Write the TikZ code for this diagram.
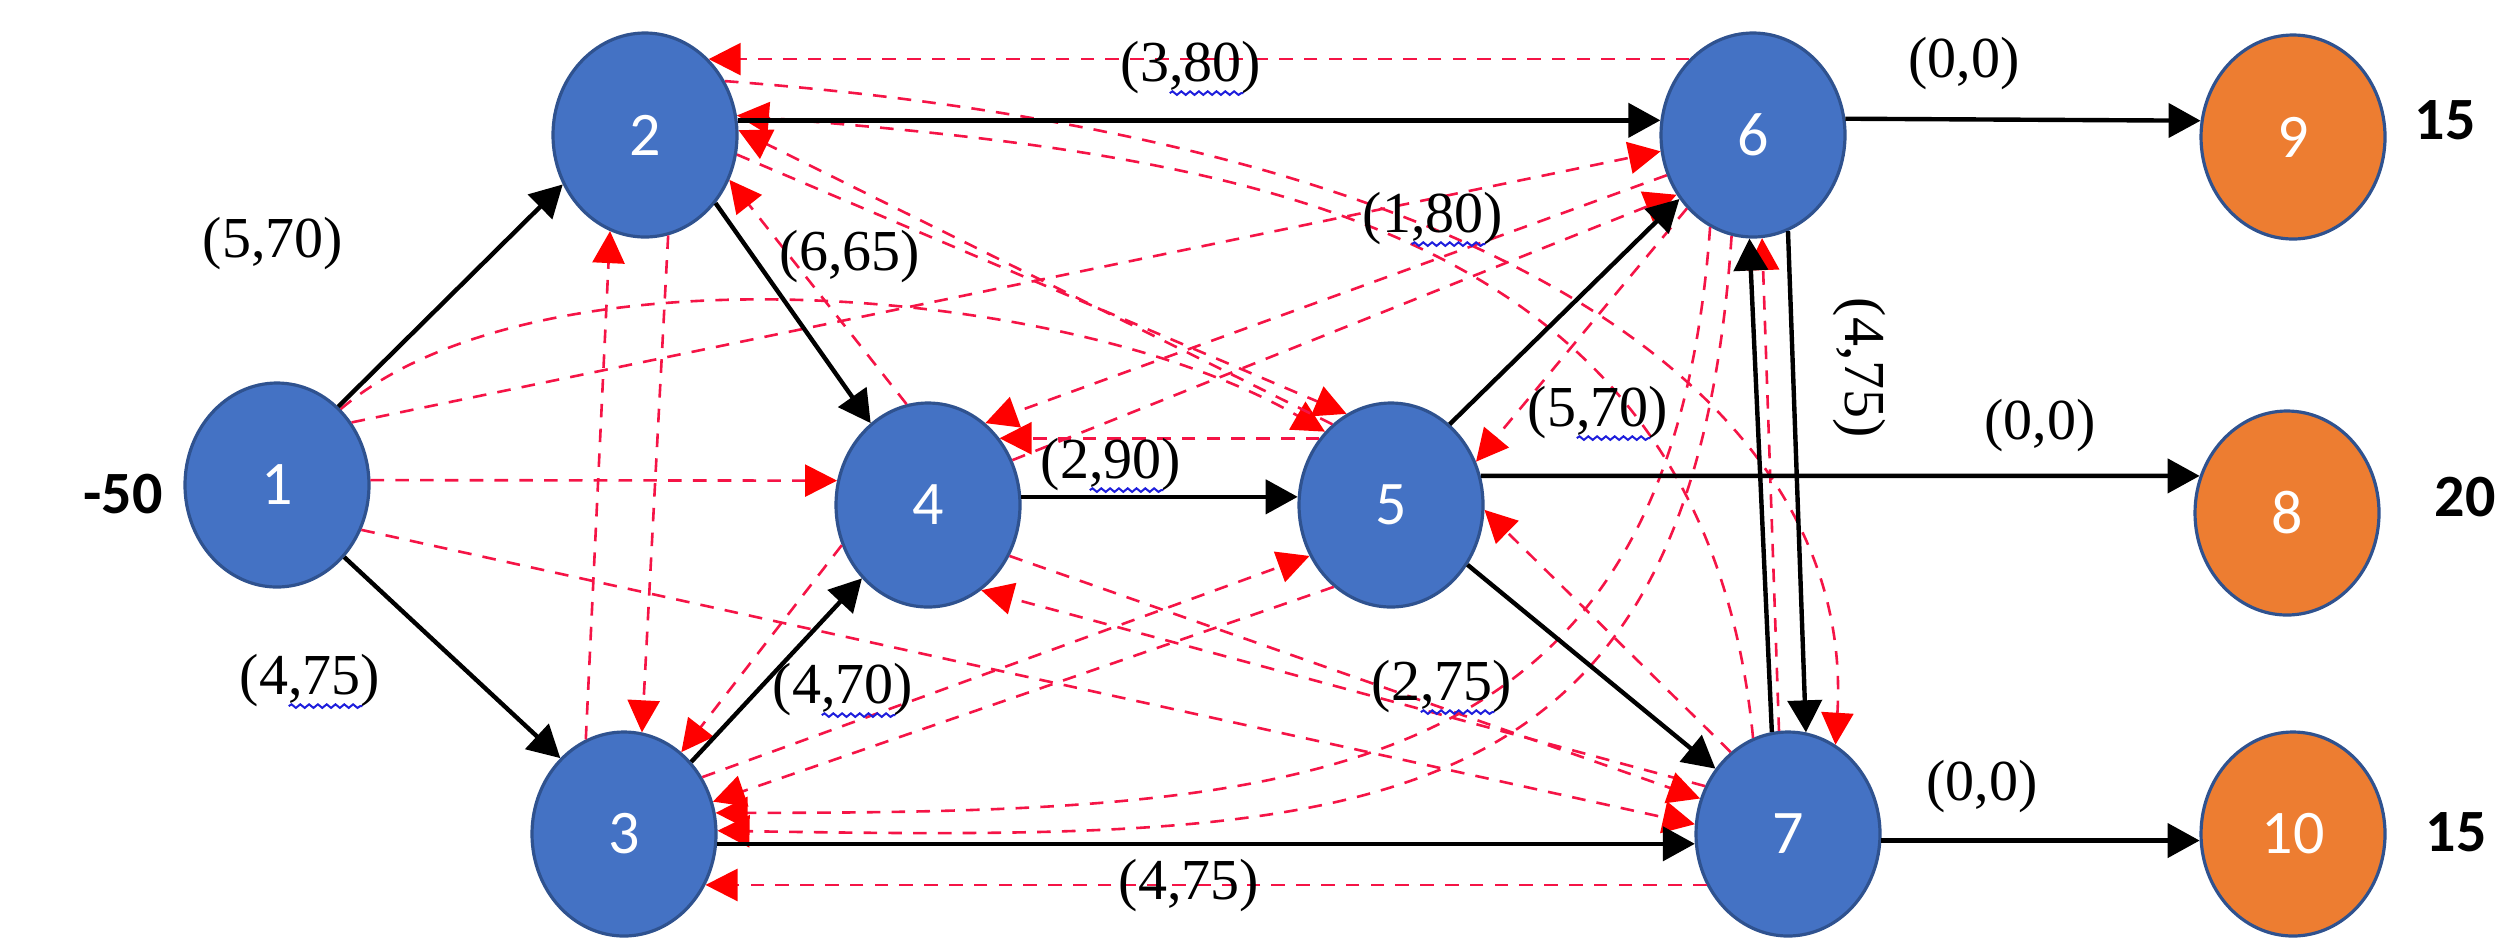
\documentclass[tikz,border=0pt]{standalone}
\usepackage{fontspec}
\setmainfont{Liberation Serif}
\newfontfamily\nodefont{Carlito}
\usetikzlibrary{shapes.geometric,arrows.meta,calc,decorations.pathmorphing}

\definecolor{nodeblue}{RGB}{68,114,196}
\definecolor{nodeedge}{RGB}{47,82,143}
\definecolor{nodeorange}{RGB}{237,125,49}
\definecolor{dashred}{RGB}{245,20,70}
\definecolor{tipred}{RGB}{255,0,0}
\definecolor{squigblue}{RGB}{30,30,220}

\tikzset{
  vtx/.style={ellipse, minimum width=46pt, minimum height=51pt, inner sep=0pt,
    draw=nodeedge, line width=0.8pt, fill=nodeblue, text=white,
    font=\nodefont\fontsize{15.5}{18}\selectfont},
  sink/.style={vtx, fill=nodeorange},
  flow/.style={line width=1.1pt, -{Triangle[length=8pt,width=8.5pt]}},
  alt/.style={dashred, line width=0.65pt, dash pattern=on 3.4pt off 2.8pt,
    -{Triangle[length=8pt,width=8pt,color=tipred]}},
  arclabel/.style={font=\fontsize{14.5}{16}\selectfont, inner sep=0pt},
  supply/.style={font=\nodefont\bfseries\fontsize{15}{17}\selectfont, inner sep=0pt},
  squig/.style={squigblue, line width=0.5pt, decorate,
    decoration={snake, amplitude=0.45pt, segment length=2.2pt}},
}

\newcommand{\spellmark}[1]{%
  \draw[squig] ($(#1.south west)!0.35!(#1.south east)+(0,-2)$) --
               ($(#1.south west)!0.87!(#1.south east)+(0,-2)$);}

\begin{document}
\begin{tikzpicture}[x=0.25pt, y=-0.25pt]
\path[use as bounding box] (0,0) rectangle (2514,944);

% vertices
\node[vtx]  (n1)  at (277,485)  {1};
\node[vtx]  (n2)  at (645,135)  {2};
\node[vtx]  (n3)  at (624,834)  {3};
\node[vtx]  (n4)  at (928,505)  {4};
\node[vtx]  (n5)  at (1391,505) {5};
\node[vtx]  (n6)  at (1753,135) {6};
\node[vtx]  (n7)  at (1788,834) {7};
\node[sink] (n9)  at (2293,137) {9};
\node[sink] (n8)  at (2287,513) {8};
\node[sink] (n10) at (2293,834) {10};

% supplies and demands
\node[supply] (s1)  at (123,494)  {-50};
\node[supply] (s9)  at (2445,120) {15};
\node[supply] (s8)  at (2465,497) {20};
\node[supply] (s10) at (2456,832) {15};

% red dashed arcs
\draw[alt] (n6.130) -- (n2.50);
\draw[alt] (n7.110) .. controls +(-50,-520) and +(500,40) .. (n2.12);
\draw[alt] (n4.102) -- (n2.-28);
\draw[alt] (n3.112) -- (n2.-110);
\draw[alt] (n2.-77) -- (n3.80);
\draw[alt] (n4.205) -- (n3.55);
\draw[alt] (n5.235) -- (n3.20);
\draw[alt] (n6.245) .. controls +(-40,560) and +(600,0) .. (n3.13);
\draw[alt] (n6.258) .. controls +(-40,600) and +(650,10) .. (n3.2);
\draw[alt] (n7.212) -- (n3.-32);
\draw[alt] (n1.3) -- (n4.165);
\draw[alt] (n5.137) -- (n4.43);
\draw[alt] (n6.205) -- (n4.55);
\draw[alt] (n7.150) -- (n4.-58);
\draw[alt] (n1.50) .. controls +(200,-170) and +(-250,-145) .. (n5.132);
\draw[alt] (n2.-12) -- (n5.116);
\draw[alt] (n5.126) -- (n2.3);
\draw[alt] (n3.36) -- (n5.212);
\draw[alt] (n6.228) -- (n5.27);
\draw[alt] (n7.125) -- (n5.-3);
\draw[alt] (n1.40) -- (n6.190);
\draw[alt] (n4.28) -- (n6.218);
\draw[alt] (n7.95) -- (n6.-85);
\draw[alt] (n1.-28) -- (n7.174);
\draw[alt] (n4.-32) -- (n7.158);
\draw[alt] (n2.34) .. controls +(800,60) and +(20,-330) .. (n7.62);

% solid arcs
\draw[flow] (n1.52)  -- (n2.211);
\draw[flow] (n1.-47) -- (n3.130);
\draw[flow] (n2.-44) -- (n4.125);
\draw[flow] (n3.47)  -- (n4.228);
\draw[flow] (n4.5)   -- (n5.175);
\draw[flow] (n2.9)   -- (n6.171);
\draw[flow] (n3.-6)  -- (n7.186);
\draw[flow] (n5.54)  -- (n6.221);
\draw[flow] (n5.-38) -- (n7.138);
\draw[flow] (n6.-70) -- (n7.80);
\draw[flow] (n7.99)  -- (n6.-92);
\draw[flow] (n6.10)  -- (n9.170);
\draw[flow] (n5.18)  -- (n8.157);
\draw[flow] (n7.-4)  -- (n10.184);

% arc labels (cost, capacity)
\node[arclabel] (c12)  at (273,244)  {(5,70)};
\node[arclabel] (c13)  at (310,681)  {(4,75)};
\node[arclabel] (c24)  at (850,257)  {(6,65)};
\node[arclabel] (c26)  at (1191,68)  {(3,80)};
\node[arclabel] (c56)  at (1433,219) {(1,80)};
\node[arclabel] (c45)  at (1111,465) {(2,90)};
\node[arclabel] (c76)  at (1598,413) {(5,70)};
\node[arclabel] (c57)  at (1442,687) {(2,75)};
\node[arclabel] (c34)  at (843,690)  {(4,70)};
\node[arclabel] (c37)  at (1189,886) {(4,75)};
\node[arclabel] (c69)  at (1964,64)  {(0,0)};
\node[arclabel] (c58)  at (2040,426) {(0,0)};
\node[arclabel] (c710) at (1982,787) {(0,0)};
\node[arclabel, rotate=-90] (c67) at (1859,368) {(4,75)};

% spell-check underlines
\spellmark{c13}
\spellmark{c26}
\spellmark{c56}
\spellmark{c45}
\spellmark{c76}
\spellmark{c57}
\spellmark{c34}
\end{tikzpicture}
\end{document}
